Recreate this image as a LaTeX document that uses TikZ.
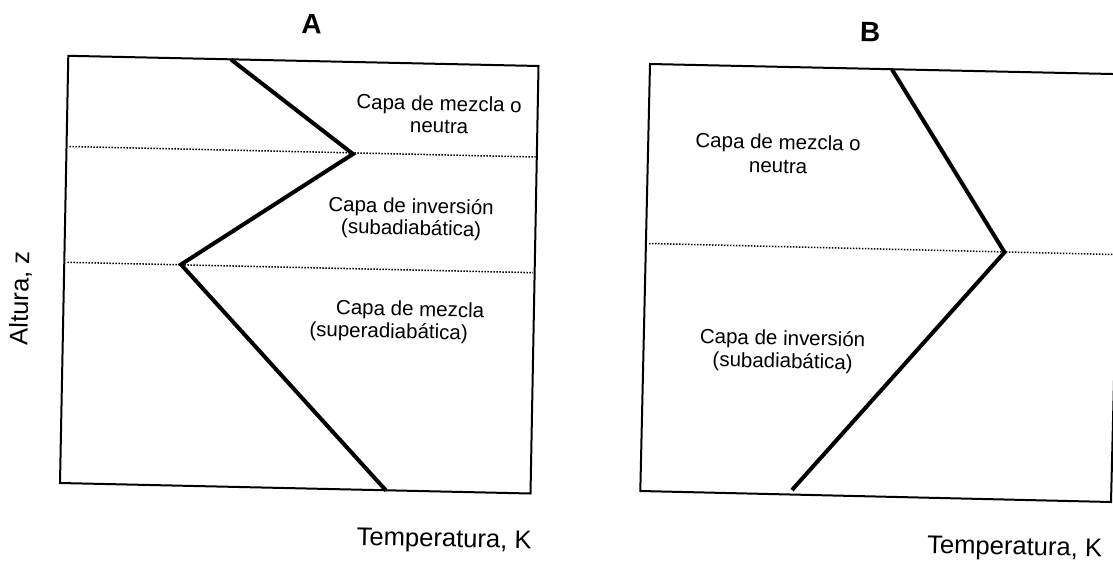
\documentclass[tikz,border=0pt]{standalone}
\usepackage{fontspec}
\setmainfont{Liberation Sans}

\tikzset{%
  panel frame/.style={
    draw,
    line width=1pt,
    line join=miter
  },
  profile line/.style={
    draw,
    line width=2pt,
    line join=miter
  },
  layer line/.style={
    draw,
    line width=0.75pt,
    dash pattern=on 0.75pt off 0.75pt
  },
  layer label/.style={
    anchor=base,
    inner sep=0pt,
    rotate=-1.2,
    font=\fontsize{10.25}{12}\selectfont
  },
  axis label/.style={
    anchor=base,
    inner sep=0pt,
    rotate=-1.2,
    font=\fontsize{12.8}{15}\selectfont
  },
  panel title/.style={
    anchor=base,
    inner sep=0pt,
    rotate=-1.2,
    font=\fontsize{14}{17}\selectfont\bfseries
  },
}

\begin{document}
\begin{tikzpicture}[x=0.5pt, y=-0.5pt]
        \useasboundingbox (0,0) rectangle (1113,567);

            % corners of the two frames
            \foreach \p/\tlx/\tly/\trx/\try/\brx/\bry/\blx/\bly in
              {A/68.3/55.8/538.5/66/530.5/493.5/60/483,
               B/650/64/1121.5/74.2/1111/502/640.3/491}
            {
              \coordinate (\p-tl) at (\tlx,\tly);
              \coordinate (\p-tr) at (\trx,\try);
              \coordinate (\p-br) at (\brx,\bry);
              \coordinate (\p-bl) at (\blx,\bly);
              \draw [panel frame] (\p-tl) -- (\p-tr) -- (\p-br) -- (\p-bl) -- cycle;
            }

            % temperature profiles
            \foreach \x/\y [count=\i] in {231/59.5, 353/154, 181/264.5, 386/490.5}
              \coordinate (A-\i) at (\x,\y);
            \foreach \x/\y [count=\i] in {892/69.6, 1004.5/252.3, 792/490}
              \coordinate (B-\i) at (\x,\y);

            % layer limits
            \coordinate (A-top-l) at (69.5,146.5);
            \coordinate (A-top-r) at (535.5,157);
            \coordinate (A-low-l) at (67.5,262.3);
            \coordinate (A-low-r) at (533,272.7);
            \coordinate (B-mid-l) at (649,243.5);
            \coordinate (B-mid-r) at (1113,254.5);

            \draw [layer line] (A-top-l) -- (A-top-r);
            \draw [layer line] (A-low-l) -- (A-low-r);
            \draw [layer line] (B-mid-l) -- (B-mid-r);

            \draw [profile line] (A-1) -- (A-2) -- (A-3) -- (A-4);
            \draw [profile line] (B-1) -- (B-2) -- (B-3);

            % titles
            \foreach \t/\x/\y in {A/311.5/34, B/870/41.7}
              \node [panel title] (title-\t) at (\x,\y) {\t};

            % layer names
            \foreach \n/\x/\y/\l in {
                A-mix-1/439/110.7/{Capa de mezcla o},
                A-mix-2/439/133/{neutra},
                A-inv-1/411/213/{Capa de inversión},
                A-inv-2/411/235/{(subadiabática)},
                A-sup-1/410/316/{Capa de mezcla},
                A-sup-2/388.5/338/{(superadiabática)},
                B-mix-1/778/149/{Capa de mezcla o},
                B-mix-2/778/173/{neutra},
                B-inv-1/782.5/345/{Capa de inversión},
                B-inv-2/782.5/368/{(subadiabática)}}
              \node [layer label] (\n) at (\x,\y) {\l};

            % axes
            \node [axis label] (temp-A) at (444,547) {Temperatura, K};
            \node [axis label] (temp-B) at (1014.5,555) {Temperatura, K};
            \node [axis label, rotate=90] (height) at (28.3,298.5) {Altura, z};

        \end{tikzpicture}
\end{document}
